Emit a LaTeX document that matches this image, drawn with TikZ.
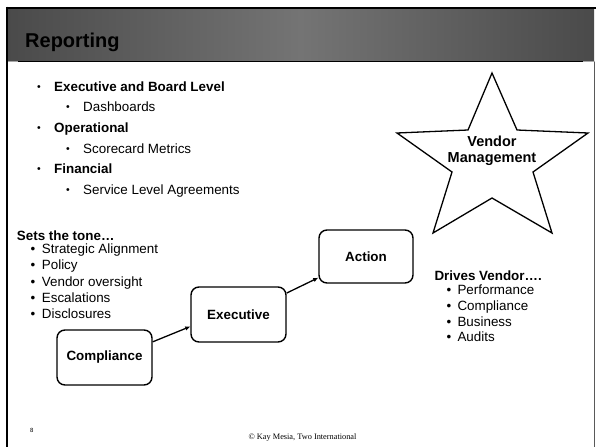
\documentclass[tikz,border=0pt]{standalone}
\usepackage{fontspec}
\setmainfont{Liberation Sans}
\newfontfamily\footserif{Liberation Serif}
\usetikzlibrary{arrows.meta}
\definecolor{hdrdark}{HTML}{4A4A4A}
\definecolor{hdrlight}{HTML}{747474}
\tikzset{
  txt/.style={anchor=base west, inner sep=0pt, font=\fontsize{13.4}{15}\selectfont},
  btxt/.style={txt, font=\fontsize{13.4}{15}\selectfont\bfseries},
  smalldot/.style={anchor=base west, inner sep=0pt, font=\fontsize{10.5}{12}\selectfont},
  stagebox/.style={draw=black, line width=1.4pt, rounded corners=8pt, fill=white,
    minimum width=95pt, minimum height=55pt, inner sep=0pt,
    font=\fontsize{13.4}{15}\selectfont\bfseries},
  flow/.style={line width=1.3pt, -{Latex[length=5pt,width=4.5pt]}},
}
\begin{document}
\begin{tikzpicture}[x=1pt,y=-1pt]
\useasboundingbox (0,0) rectangle (596,447);
% slide frame and header
\shade[left color=hdrdark, right color=hdrdark, middle color=hdrlight] (7,8) rectangle (594,61);
\draw[line width=2pt] (6,7.5) -- (596,7.5);
\draw[line width=2pt] (7,6.5) -- (7,447);
\draw[line width=1pt, black!65] (594.5,61) -- (594.5,447);
\draw[line width=1.5pt, black!35] (8,61.5) -- (595,61.5);
\draw[line width=1.5pt] (18,61.5) -- (583,61.5);
\node[anchor=base west, inner sep=0pt, font=\fontsize{20}{24}\selectfont\bfseries, text=black] (title) at (25,47) {Reporting};

% top bullet list
\node[smalldot] (b1d) at (37,90) {•};
\node[btxt] (b1) at (54,91) {Executive and Board Level};
\node[smalldot] (b1sd) at (66,110.5) {•};
\node[txt] (b1s) at (83,111.5) {Dashboards};
\node[smalldot] (b2d) at (37,131) {•};
\node[btxt] (b2) at (54,132) {Operational};
\node[smalldot] (b2sd) at (66,152) {•};
\node[txt] (b2s) at (83,153) {Scorecard Metrics};
\node[smalldot] (b3d) at (37,172.5) {•};
\node[btxt] (b3) at (54,173.5) {Financial};
\node[smalldot] (b3sd) at (66,193) {•};
\node[txt] (b3s) at (83,194) {Service Level Agreements};

% sets the tone
\node[btxt] (tone) at (16.7,240) {Sets the tone…};
\node[txt] (t1d) at (30.5,253) {•};
\node[txt] (t1) at (41.7,253) {Strategic Alignment};
\node[txt] (t2d) at (30.5,269.5) {•};
\node[txt] (t2) at (41.7,269.5) {Policy};
\node[txt] (t3d) at (30.5,286) {•};
\node[txt] (t3) at (41.7,286) {Vendor oversight};
\node[txt] (t4d) at (30.5,302) {•};
\node[txt] (t4) at (41.7,302) {Escalations};
\node[txt] (t5d) at (30.5,318) {•};
\node[txt] (t5) at (41.7,318) {Disclosures};

% drives vendor
\node[btxt] (drv) at (434.3,280) {Drives Vendor….};
\node[txt] (d1d) at (446.3,294.5) {•};
\node[txt] (d1) at (457.3,294.5) {Performance};
\node[txt] (d2d) at (446.3,310.8) {•};
\node[txt] (d2) at (457.3,310.8) {Compliance};
\node[txt] (d3d) at (446.3,326.7) {•};
\node[txt] (d3) at (457.3,326.7) {Business};
\node[txt] (d4d) at (446.3,341.8) {•};
\node[txt] (d4) at (457.3,341.8) {Audits};

% star
\draw[line width=1.3pt, line join=miter, fill=white]
  (492,73) -- (517,130) -- (588,133) -- (533,172) -- (552,233) -- (492,198)
  -- (433,233) -- (452,172) -- (397,133) -- (468,130) -- cycle;
\node[align=center, inner sep=0pt, font=\fontsize{14.5}{16.5}\selectfont\bfseries] (vm) at (492,151) {Vendor\\Management};

% flow boxes
\node[stagebox] (comp) at (104.5,357.5) {Compliance};
\node[stagebox] (exec) at (238.5,314.5) {Executive};
\node[stagebox, minimum width=94pt, minimum height=53pt] (act) at (366,256.5) {Action};
\draw[flow] (comp.18) -- (exec.194);
\draw[flow] (exec.24) -- (act.204);

% footer
\node[anchor=base west, inner sep=0pt, font=\fontsize{6}{7}\selectfont] (pg) at (30,432) {8};
\node[anchor=base, inner sep=0pt, font=\footserif\fontsize{8.3}{10}\selectfont] (copy) at (302.5,439) {© Kay Mesia, Two International};
\end{tikzpicture}
\end{document}
